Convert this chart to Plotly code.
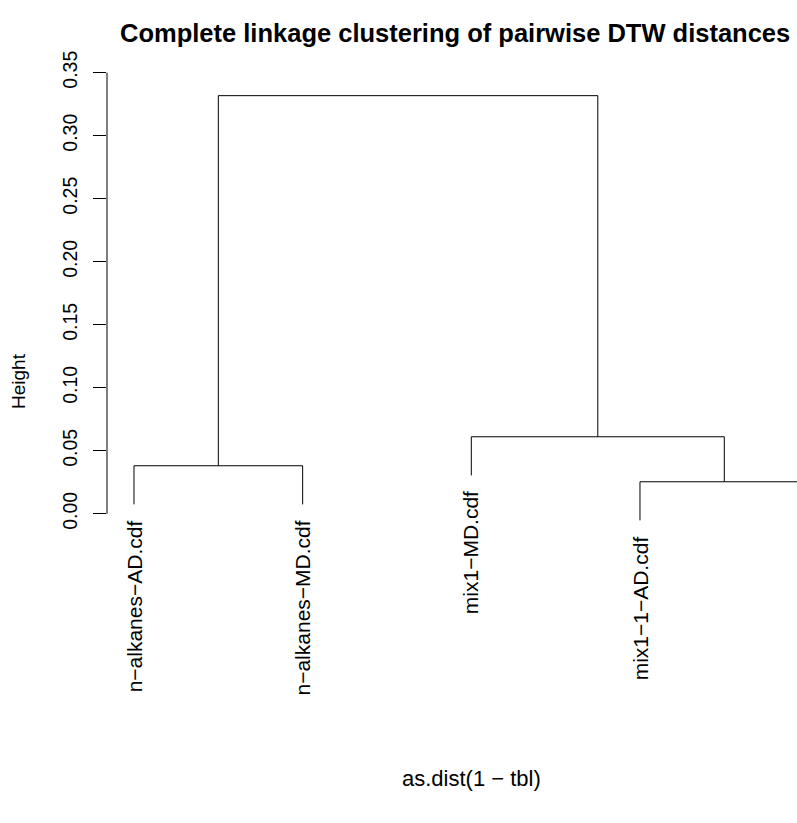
import plotly.graph_objects as go

# ---- data ----
leaf_labels = ["n−alkanes−AD.cdf", "n−alkanes−MD.cdf", "mix1−MD.cdf",
               "mix1−1−AD.cdf", "mix1−2−AD.cdf"]
# hclust-style merge table: negative = leaf (1-based), positive = earlier merge step
merge_left = [-4, -1, -3, 2]
merge_right = [-5, -2, 1, 3]
merge_height = [0.0254, 0.0381, 0.0611, 0.3317]
leaf_order = [1, 2, 3, 4, 5]
hang = 0.1
y_tick_values = [0.00, 0.05, 0.10, 0.15, 0.20, 0.25, 0.30, 0.35]
y_tick_labels = ["0.00", "0.05", "0.10", "0.15", "0.20", "0.25", "0.30", "0.35"]
title_text = "Complete linkage clustering of pairwise DTW distances"
x_title = "as.dist(1 − tbl)"
y_title = "Height"

# ---- dendrogram geometry via hclust rules ----
hang_amt = hang * (max(merge_height) - min(merge_height))
leaf_pos = {leaf: i + 1 for i, leaf in enumerate(leaf_order)}
merge_x = []
xs, ys = [], []
leaf_bottom = {}
for i, (a, b, h) in enumerate(zip(merge_left, merge_right, merge_height)):
    pts = []
    for c in (a, b):
        if c < 0:
            cx = leaf_pos[-c]
            cy = h - hang_amt
            leaf_bottom[-c] = cy
        else:
            cx = merge_x[c - 1]
            cy = merge_height[c - 1]
        pts.append((cx, cy))
    (xa, ya), (xb, yb) = pts
    merge_x.append((xa + xb) / 2)
    xs += [xa, xa, xb, xb, None]
    ys += [ya, h, h, yb, None]

FONT = "Liberation Sans, Arial, Helvetica, sans-serif"
fig = go.Figure()
fig.add_trace(go.Scatter(x=xs, y=ys, mode="lines",
                         line=dict(color="black", width=1),
                         hoverinfo="skip", showlegend=False))

annotations = []
for leaf, lab in enumerate(leaf_labels, start=1):
    annotations.append(dict(
        x=leaf_pos[leaf], y=leaf_bottom[leaf], xref="x", yref="y",
        text=lab, showarrow=False, textangle=-90,
        xanchor="center", yanchor="top", yshift=-14,
        font=dict(family=FONT, size=21, color="black")))

annotations.append(dict(x=2.903, xref="x", y=1.0564, yref="paper",
                        text="<b>" + title_text + "</b>", showarrow=False,
                        xanchor="center", yanchor="middle",
                        font=dict(family=FONT, size=25.5, color="black")))
annotations.append(dict(x=3, xref="x", y=-0.499, yref="paper",
                        text=x_title, showarrow=False,
                        xanchor="center", yanchor="middle",
                        font=dict(family=FONT, size=22, color="black")))
annotations.append(dict(x=-0.1275, xref="paper", y=0.33, yref="paper",
                        text=y_title, showarrow=False, textangle=-90,
                        xanchor="center", yanchor="middle",
                        font=dict(family=FONT, size=19, color="black")))

fig.update_layout(
    width=797, height=823,
    margin=dict(l=107, r=0, t=60, b=284),
    paper_bgcolor="white", plot_bgcolor="white",
    showlegend=False,
    annotations=annotations,
    shapes=[dict(type="line", xref="paper", yref="y", x0=0, x1=0,
                 y0=y_tick_values[0], y1=y_tick_values[-1],
                 line=dict(color="black", width=1))],
    xaxis=dict(range=[0.84, 4.931], visible=False, showgrid=False, zeroline=False),
    yaxis=dict(range=[-0.02, 0.36], showgrid=False, zeroline=False, showline=False,
               tickmode="array", tickvals=y_tick_values, ticktext=y_tick_labels,
               ticks="outside", ticklen=13, tickwidth=1, tickcolor="black",
               tickangle=-90, ticklabelstandoff=8,
               tickfont=dict(family=FONT, size=19.5, color="black")),
)

fig.write_html("out.html")
